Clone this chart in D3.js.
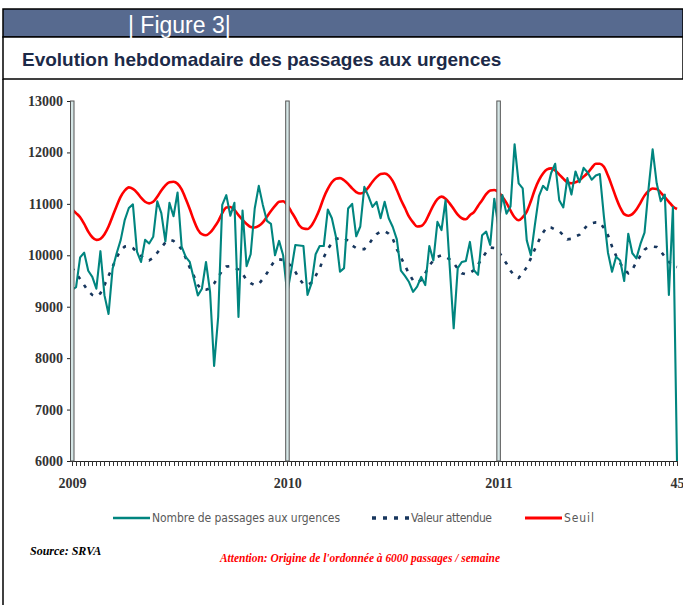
<!DOCTYPE html>
<html>
<head>
<meta charset="utf-8">
<title>Figure 3 - Evolution hebdomadaire des passages aux urgences</title>
<script src="https://cdnjs.cloudflare.com/ajax/libs/d3/7.8.5/d3.min.js"></script>
<style>
	body { margin: 0; background: #fff; }
</style>
</head>
<body>
<script>
// weeks shown for each year (2011 stops at week 45)
var years = [2009, 2010, 2011];
var weeksPerYear = [53, 52, 45];
var tickLabels = ["2009", "2010", "2011", "45"];
var yTicks = [6000, 7000, 8000, 9000, 10000, 11000, 12000, 13000];

// Nombre de passages aux urgences (weekly)
var passages = [
	9330, 9380, 9960, 10050, 9700, 9580, 9350, 10080, 9220, 8860,
	9740, 10040, 10300, 10690, 10920, 10990, 10070, 9870, 10300, 10230,
	10360, 11050, 10820, 10270, 11020, 10760, 11220, 10170, 9970, 9870,
	9550, 9220, 9350, 9870, 9290, 7850, 8800, 10980, 11170, 10770,
	11020, 8800, 10870, 9790, 10020, 10910, 11350, 10980, 10670, 10610,
	10000, 10280, 10000, 9260, 9710, 10200, 10190, 10180, 9230, 9460,
	10020, 10180, 10180, 10890, 10720, 10360, 9680, 9750, 10910, 11000,
	10370, 10560, 11330, 11150, 10940, 11040, 10720, 11040, 10720, 10550,
	10310, 9700, 9600, 9480, 9290, 9390, 9580, 9420, 10180, 9900,
	10650, 10490, 11070, 9810, 8580, 9750, 9870, 9890, 10260, 9710,
	9620, 10390, 10460, 10200, 11100, 10560, 11170, 10810, 10950, 12160,
	11400, 11300, 10290, 10000, 10590, 11150, 11350, 11270, 11600, 11780,
	11070, 10930, 11500, 11180, 11630, 11420, 11700, 11610, 11470, 11550,
	11580, 10750, 10050, 9680, 9970, 9900, 9500, 10420, 10040, 9940,
	10220, 10440, 11300, 12060, 11400, 11050, 11180, 9230, 10940, 6000
];

// Valeur attendue
var attendue = [
	9760, 9650, 9540, 9420, 9300, 9230, 9200, 9260, 9420, 9600,
	9780, 9960, 10100, 10170, 10180, 10140, 10060, 9990, 9920, 9900,
	9950, 10050, 10150, 10250, 10300, 10280, 10200, 10120, 9950, 9760,
	9600, 9420, 9330, 9330, 9360, 9450, 9580, 9700, 9780, 9790,
	9760, 9720, 9640, 9520, 9460, 9420, 9440, 9540, 9650, 9790,
	9900, 9920, 9910, 9870, 9780, 9680, 9540, 9440, 9420, 9470,
	9600, 9740, 9960, 10120, 10240, 10310, 10340, 10340, 10280, 10190,
	10140, 10120, 10120, 10200, 10320, 10410, 10460, 10470, 10420, 10320,
	10120, 9960, 9800, 9640, 9510, 9470, 9520, 9650, 9800, 9900,
	9970, 10000, 9970, 9920, 9850, 9740, 9650, 9630, 9660, 9710,
	9820, 9940, 10060, 10150, 10140, 10080, 9960, 9840, 9700, 9600,
	9560, 9650, 9770, 9940, 10120, 10290, 10440, 10550, 10540, 10500,
	10470, 10390, 10310, 10320, 10370, 10400, 10500, 10590, 10620, 10640,
	10640, 10530, 10390, 10170, 9990, 9850, 9720, 9650, 9720, 9870,
	9990, 10110, 10160, 10170, 10160, 10080, 9970, 9870, 9790, 9770
];

// Seuil
var seuil = [
	10890, 10820, 10740, 10610, 10460, 10350, 10300, 10320, 10410, 10560,
	10760, 10960, 11140, 11260, 11320, 11290, 11220, 11120, 11040, 11010,
	11040, 11140, 11260, 11360, 11420, 11430, 11390, 11280, 11100, 10900,
	10680, 10500, 10410, 10390, 10440, 10540, 10660, 10820, 10930, 10940,
	10880, 10780, 10690, 10610, 10550, 10540, 10570, 10640, 10750, 10860,
	10960, 11040, 11050, 10980, 10850, 10720, 10580, 10520, 10510, 10580,
	10720, 10900, 11120, 11290, 11420, 11490, 11500, 11460, 11390, 11300,
	11230, 11200, 11230, 11320, 11430, 11520, 11580, 11590, 11550, 11440,
	11270, 11080, 10920, 10750, 10640, 10560, 10570, 10650, 10810, 10970,
	11090, 11140, 11100, 11010, 10900, 10790, 10720, 10700, 10780, 10840,
	10960, 11070, 11190, 11260, 11270, 11230, 11140, 11020, 10870, 10740,
	10680, 10740, 10850, 11050, 11280, 11460, 11590, 11670, 11690, 11650,
	11570, 11490, 11420, 11400, 11420, 11460, 11530, 11600, 11700, 11780,
	11780, 11720, 11550, 11340, 11120, 10930, 10800, 10770, 10800, 10890,
	11020, 11160, 11250, 11300, 11290, 11220, 11130, 11040, 10950, 10900
];

var w = 683;
var h = 605;

// one entry per week, and the index where each year begins
var weeks = [];
var yearStarts = [];
years.forEach(function(yr, k) {
	yearStarts.push(weeks.length);
	for (var wk = 1; wk <= weeksPerYear[k]; wk++) {
		weeks.push(yr + "-S" + wk);
	}
});
var labelIdx = yearStarts.concat([weeks.length - 1]);

var svg = d3.select("body")
	.append("svg")
	.attr("width", w)
	.attr("height", h);

// frame + header
svg.append("rect")
	.attr("x", 3).attr("y", 9)
	.attr("width", 680).attr("height", 28)
	.attr("fill", "#576a8f")
	.attr("stroke", "#000").attr("stroke-width", 1.5);
svg.append("rect")
	.attr("x", 3).attr("y", 37)
	.attr("width", 680).attr("height", 42)
	.attr("fill", "#fff")
	.attr("stroke", "#000").attr("stroke-width", 1.5);
svg.append("line")
	.attr("x1", 3).attr("x2", 3)
	.attr("y1", 79).attr("y2", h)
	.attr("stroke", "#000").attr("stroke-width", 1.5);

svg.append("text")
	.attr("x", 128).attr("y", 33)
	.attr("fill", "#fff")
	.style("font-family", "'Liberation Sans', Arial, sans-serif")
	.style("font-size", "23px")
	.text("| Figure 3|");

svg.append("text")
	.attr("x", 22).attr("y", 66)
	.attr("fill", "#1c2a48")
	.style("font-family", "'Liberation Sans', Arial, sans-serif")
	.style("font-size", "19px")
	.style("font-weight", "bold")
	.text("Evolution hebdomadaire des passages aux urgences");

var xScale = d3.scaleLinear()
	.domain([0, weeks.length - 1])
	.range([72, 677]);

var yScale = d3.scaleLinear()
	.domain([6000, 13000])
	.range([461, 101]);

// labels only on the year starts and the last week
var xAxis = d3.axisBottom(xScale)
	.tickValues(labelIdx)
	.tickSize(0)
	.tickPadding(17)
	.tickFormat(function(i) { return tickLabels[labelIdx.indexOf(i)]; });

var yAxis = d3.axisLeft(yScale)
	.tickValues(yTicks)
	.tickSize(5)
	.tickSizeOuter(0)
	.tickPadding(4)
	.tickFormat(d3.format("d"));

var gx = svg.append("g")
	.attr("transform", "translate(0,461)")
	.call(xAxis);
var gy = svg.append("g")
	.attr("transform", "translate(72,0)")
	.call(yAxis);

// one small tick per week under the axis
gx.selectAll("line.week")
	.data(d3.range(weeks.length))
	.enter()
	.append("line")
	.attr("class", "week")
	.attr("x1", function(d) { return Math.round(xScale(d)) + 0.5; })
	.attr("x2", function(d) { return Math.round(xScale(d)) + 0.5; })
	.attr("y1", 0)
	.attr("y2", 5)
	.attr("stroke", "#333")
	.attr("stroke-width", 1);

[gx, gy].forEach(function(g) {
	g.select(".domain").attr("stroke", "#222");
	g.selectAll(".tick line").attr("stroke", "#222");
	g.selectAll("text")
		.attr("fill", "#333")
		.style("font-family", "'Liberation Serif', 'Times New Roman', serif")
		.style("font-size", "14px")
		.style("font-weight", "bold");
});

var line = d3.line()
	.x(function(d, i) { return xScale(i); })
	.y(function(d) { return yScale(d); });

svg.append("path")
	.datum(attendue)
	.attr("fill", "none")
	.attr("stroke", "#17365d")
	.attr("stroke-width", 2.6)
	.attr("stroke-dasharray", "3.5,7")
	.attr("d", line);

svg.append("path")
	.datum(seuil)
	.attr("fill", "none")
	.attr("stroke", "#ff0000")
	.attr("stroke-width", 2.6)
	.attr("d", line.curve(d3.curveMonotoneX));

svg.append("path")
	.datum(passages)
	.attr("fill", "none")
	.attr("stroke", "#00857f")
	.attr("stroke-width", 2.1)
	.attr("stroke-linejoin", "round")
	.attr("d", line.curve(d3.curveLinear));

// double lines marking the start of each year
svg.selectAll("rect.year")
	.data(yearStarts)
	.enter()
	.append("rect")
	.attr("class", "year")
	.attr("x", function(d) { return xScale(d) - 1.5; })
	.attr("y", yScale(13000))
	.attr("width", 3.5)
	.attr("height", yScale(6000) - yScale(13000))
	.attr("fill", "#d5e6e6")
	.attr("stroke", "#555")
	.attr("stroke-width", 1);

// legend
var legend = [
	{ name: "Nombre de passages aux urgences", color: "#00857f", x: 113, len: 188, dash: null, sw: 2.5 },
	{ name: "Valeur attendue", color: "#17365d", x: 372, len: 81, dash: "4,7", sw: 3.5 },
	{ name: "Seuil", color: "#ff0000", x: 525, len: 30, dash: null, sw: 2.8 }
];

var lg = svg.selectAll("g.legend")
	.data(legend)
	.enter()
	.append("g")
	.attr("class", "legend")
	.attr("transform", function(d) { return "translate(" + d.x + ",518)"; });

lg.append("line")
	.attr("x1", 0).attr("x2", 37)
	.attr("stroke", function(d) { return d.color; })
	.attr("stroke-width", function(d) { return d.sw; })
	.attr("stroke-dasharray", function(d) { return d.dash; });

lg.append("text")
	.attr("x", 39).attr("y", 4)
	.attr("fill", "#595959")
	.attr("textLength", function(d) { return d.len; })
	.attr("lengthAdjust", "spacing")
	.style("font-family", "'Liberation Sans Narrow', 'DejaVu Sans Condensed', sans-serif")
	.style("font-size", "12px")
	.text(function(d) { return d.name; });

svg.append("text")
	.attr("x", 30).attr("y", 555)
	.attr("fill", "#000")
	.style("font-family", "'Liberation Serif', 'Times New Roman', serif")
	.style("font-size", "12px")
	.style("font-weight", "bold")
	.style("font-style", "italic")
	.text("Source: SRVA");

svg.append("text")
	.attr("x", 220).attr("y", 562)
	.attr("fill", "#ff0000")
	.attr("textLength", 280)
	.attr("lengthAdjust", "spacingAndGlyphs")
	.style("font-family", "'Liberation Serif', 'Times New Roman', serif")
	.style("font-size", "12.5px")
	.style("font-weight", "bold")
	.style("font-style", "italic")
	.text("Attention: Origine de l'ordonnée à 6000 passages / semaine");
</script>
</body>
</html>
